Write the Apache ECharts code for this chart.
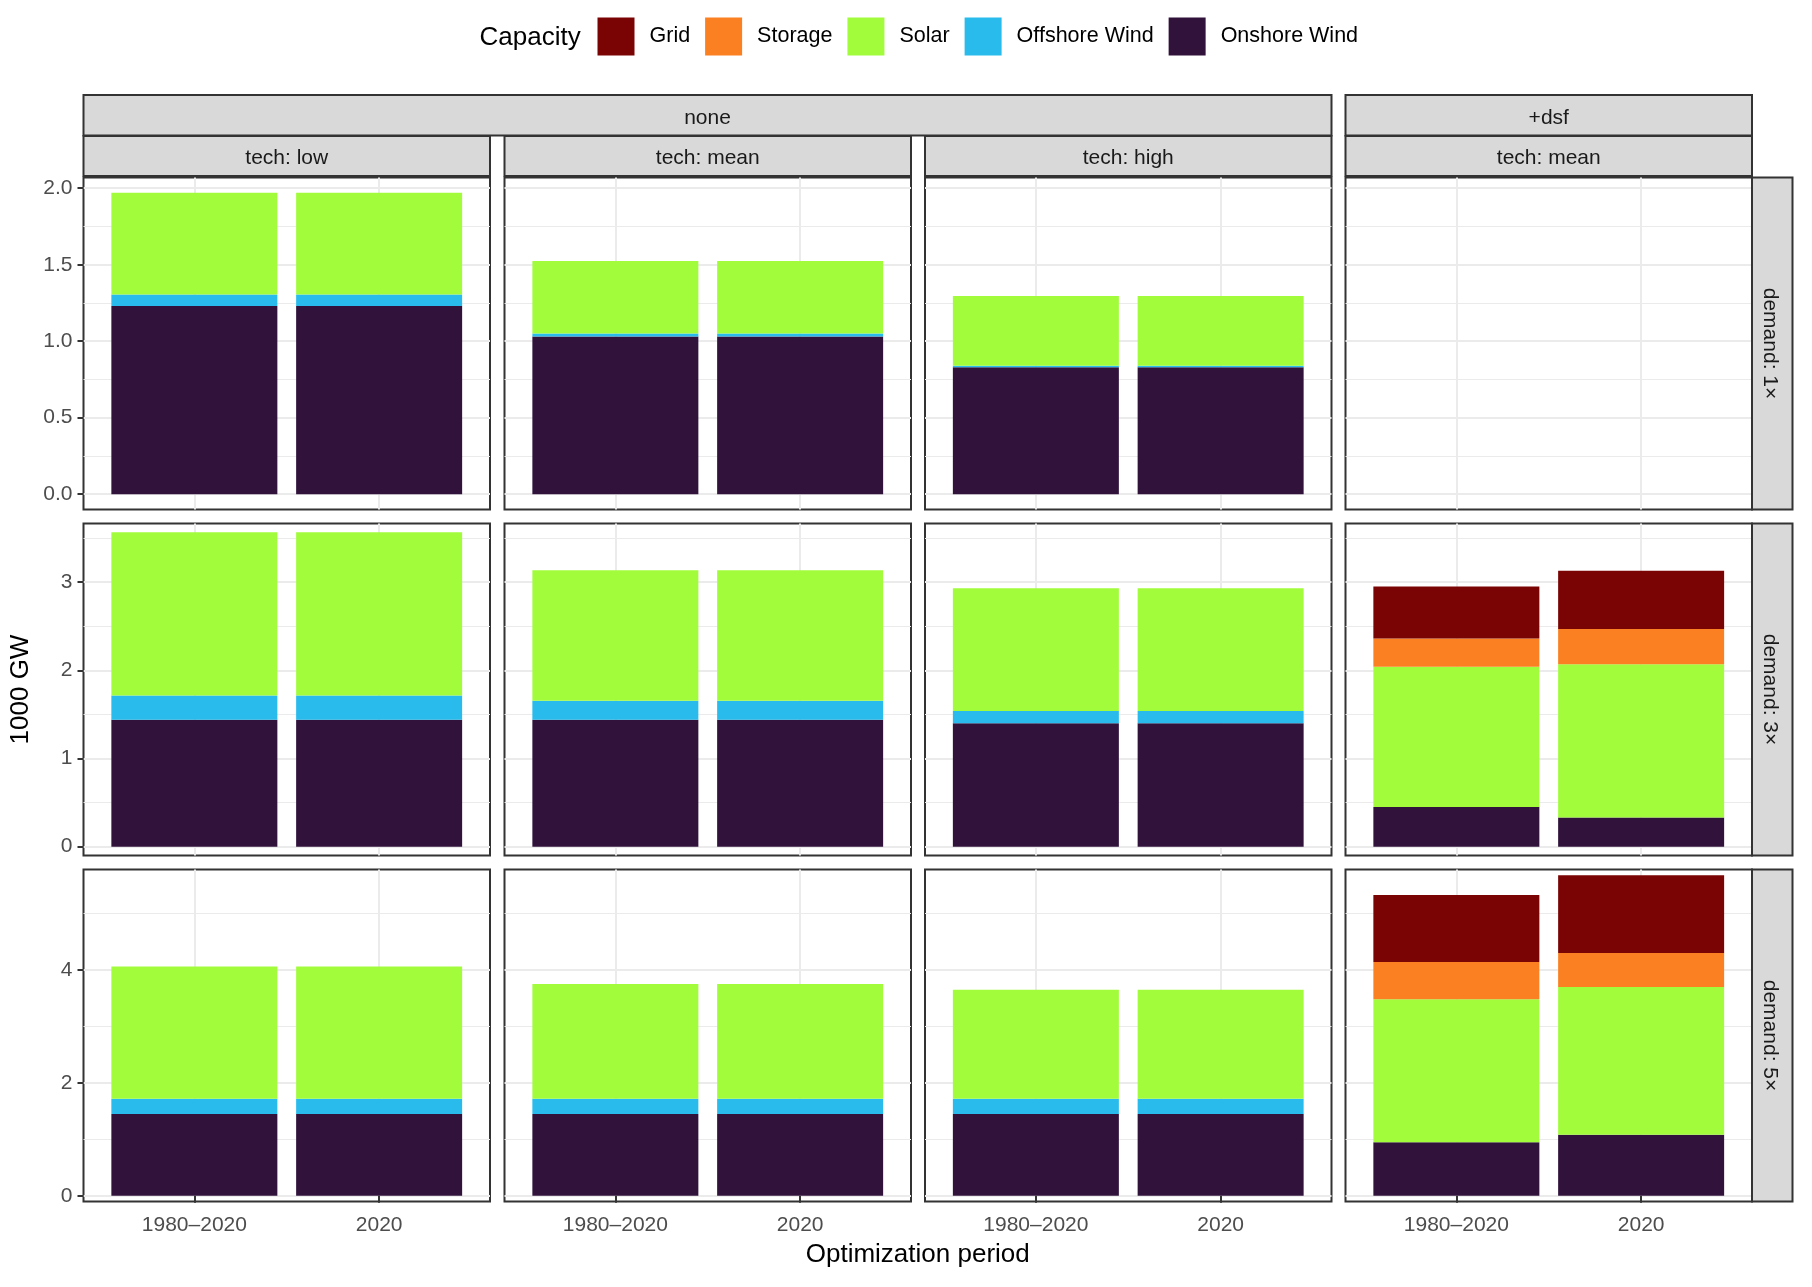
<!DOCTYPE html>
<html><head><meta charset="utf-8">
<script src="https://cdn.jsdelivr.net/npm/echarts@6/dist/echarts.min.js"></script>
<style>html,body{margin:0;padding:0;background:#fff}#c{width:1812px;height:1287px}</style>
</head><body><div id="c"></div>
<script>
// ---------------- data ----------------
const periods = ['1980–2020', '2020'];
const policyLevels = ['none', '+dsf'];
const techLevels = ['tech: low', 'tech: mean', 'tech: high', 'tech: mean'];
const demandLevels = ['demand: 1×', 'demand: 3×', 'demand: 5×'];
// stacking order, bottom to top
const capacityTypes = ['Onshore Wind', 'Offshore Wind', 'Solar', 'Storage', 'Grid'];
const legendOrder = ['Grid', 'Storage', 'Solar', 'Offshore Wind', 'Onshore Wind'];

// values in 1000 GW: [demand row][panel column][period]
const onshoreWind = [
  [[1.23, 1.23], [1.03, 1.03], [0.83, 0.83], null],
  [[1.44, 1.44], [1.44, 1.44], [1.40, 1.40], [0.45, 0.33]],
  [[1.45, 1.45], [1.45, 1.45], [1.45, 1.45], [0.95, 1.08]]
];
const offshoreWind = [
  [[0.075, 0.075], [0.02, 0.02], [0.01, 0.01], null],
  [[0.275, 0.275], [0.215, 0.215], [0.14, 0.14], [0, 0]],
  [[0.27, 0.27], [0.27, 0.27], [0.27, 0.27], [0, 0]]
];
const solar = [
  [[0.665, 0.665], [0.475, 0.475], [0.455, 0.455], null],
  [[1.85, 1.85], [1.48, 1.48], [1.39, 1.39], [1.59, 1.74]],
  [[2.34, 2.34], [2.03, 2.03], [1.93, 1.93], [2.53, 2.62]]
];
const storage = [
  [[0, 0], [0, 0], [0, 0], null],
  [[0, 0], [0, 0], [0, 0], [0.32, 0.40]],
  [[0, 0], [0, 0], [0, 0], [0.66, 0.60]]
];
const grid = [
  [[0, 0], [0, 0], [0, 0], null],
  [[0, 0], [0, 0], [0, 0], [0.59, 0.66]],
  [[0, 0], [0, 0], [0, 0], [1.19, 1.38]]
];

const yTicks = [[0, 0.5, 1, 1.5, 2], [0, 1, 2, 3], [0, 2, 4]];
const yTickLabels = [['0.0', '0.5', '1.0', '1.5', '2.0'], ['0', '1', '2', '3'], ['0', '2', '4']];
const yMinorTicks = [[0.25, 0.75, 1.25, 1.75], [0.5, 1.5, 2.5, 3.5], [1, 3, 5]];

// ---------------- styles / layout ----------------
const palette = {
  'Grid': '#7A0403', 'Storage': '#FB8022', 'Solar': '#A2FC3C',
  'Offshore Wind': '#28BBEC', 'Onshore Wind': '#30123B'
};
const FONT = '"Liberation Sans", Arial, sans-serif';
const colLeft = [83.5, 504.5, 925, 1345.5];
const colW = 406.5;
const rowTop = [177.5, 523.5, 869.5];
const rowH = 332;
const xPos = periods.map((p, i) => i + 1);
const EXPAND = 0.1;
const valueSets = {
  'Onshore Wind': onshoreWind, 'Offshore Wind': offshoreWind,
  'Solar': solar, 'Storage': storage, 'Grid': grid
};

// y range per row: stacked max + additive expansion
const rowMax = demandLevels.map((d, r) => {
  let m = 0;
  for (let c = 0; c < 4; c++) {
    if (!onshoreWind[r][c]) continue;
    for (let i = 0; i < periods.length; i++) {
      let s = 0;
      capacityTypes.forEach(k => { s += valueSets[k][r][c][i]; });
      m = Math.max(m, s);
    }
  }
  return m + EXPAND;
});

const grids = [], xAxes = [], yAxes = [], series = [];
for (let r = 0; r < 3; r++) {
  for (let c = 0; c < 4; c++) {
    const gi = r * 4 + c;
    grids.push({
      left: colLeft[c], top: rowTop[r], width: colW, height: rowH,
      show: true, borderColor: '#333333', borderWidth: 2,
      backgroundColor: 'transparent', containLabel: false, outerBoundsMode: 'none'
    });
    xAxes.push({
      gridIndex: gi, type: 'value', min: 0.4, max: periods.length + 0.6,
      axisLine: { show: false },
      axisTick: { show: r === 2, customValues: xPos, length: 7, lineStyle: { color: '#333333', width: 2 } },
      axisLabel: {
        show: r === 2, customValues: xPos, margin: 13,
        formatter: v => periods[xPos.indexOf(v)] || '',
        fontSize: 21, color: '#4D4D4D', fontFamily: FONT
      },
      splitLine: { show: true, lineStyle: { color: '#EBEBEB', width: 2 } }
    });
    yAxes.push({
      gridIndex: gi, type: 'value', min: -EXPAND, max: rowMax[r],
      axisLine: { show: false },
      axisTick: { show: c === 0, customValues: yTicks[r], length: 6, lineStyle: { color: '#333333', width: 2 } },
      axisLabel: {
        show: c === 0, customValues: yTicks[r], margin: 11,
        formatter: v => yTickLabels[r][yTicks[r].indexOf(v)] || '',
        fontSize: 21, color: '#4D4D4D', fontFamily: FONT
      },
      splitLine: { show: true, lineStyle: { color: '#EBEBEB', width: 2 } }
    });
    yAxes.push({
      gridIndex: gi, type: 'value', min: -EXPAND, max: rowMax[r], position: 'left',
      axisLine: { show: false },
      axisTick: { show: false, customValues: yMinorTicks[r] },
      axisLabel: { show: false, customValues: yMinorTicks[r] },
      splitLine: { show: true, lineStyle: { color: '#EBEBEB', width: 1 } }
    });
    if (!onshoreWind[r][c]) continue;
    capacityTypes.forEach(k => {
      series.push({
        type: 'bar', name: k, xAxisIndex: gi, yAxisIndex: gi * 2, stack: 'stack' + gi,
        barWidth: 166, itemStyle: { color: palette[k] },
        emphasis: { disabled: true },
        // value first so that the value dimension is the stacked one
        encode: { x: 1, y: 0 },
        data: periods.map((p, i) => [valueSets[k][r][c][i], xPos[i]])
      });
    });
  }
}

// strips & titles
const graphics = [];
function strip(x, y, w, h, text, vertical) {
  graphics.push({
    type: 'rect', shape: { x: x, y: y, width: w, height: h },
    style: { fill: '#D9D9D9', stroke: '#333333', lineWidth: 2 }, z: 10
  });
  graphics.push({
    type: 'text', x: x + w / 2, y: y + h / 2, rotation: vertical ? -Math.PI / 2 : 0,
    style: { text: text, x: 0, y: 2.5, fill: '#1A1A1A', font: '21px ' + FONT, align: 'center', verticalAlign: 'middle' }, z: 11
  });
}
strip(colLeft[0], 95, colLeft[2] + colW - colLeft[0], 40.5, policyLevels[0]);
strip(colLeft[3], 95, colW, 40.5, policyLevels[1]);
for (let c = 0; c < 4; c++) strip(colLeft[c], 136, colW, 40, techLevels[c]);
for (let r = 0; r < 3; r++) strip(colLeft[3] + colW, rowTop[r], 40.5, rowH, demandLevels[r], true);

graphics.push({
  type: 'text', x: 21, y: rowTop[0] + (rowTop[2] + rowH - rowTop[0]) / 2, rotation: Math.PI / 2,
  style: { text: '1000 GW', fill: '#000', font: '26px ' + FONT, align: 'center', verticalAlign: 'middle' }
});
graphics.push({
  type: 'text', x: colLeft[0] + (colLeft[3] + colW - colLeft[0]) / 2, y: 1254.5,
  style: { text: 'Optimization period', fill: '#000', font: '26px ' + FONT, align: 'center', verticalAlign: 'middle' }
});
graphics.push({
  type: 'text', x: 479.5, y: 38,
  style: { text: 'Capacity', fill: '#000', font: '26px ' + FONT, align: 'left', verticalAlign: 'middle' }
});

const chart = echarts.init(document.getElementById('c'), null, { renderer: 'canvas' });
chart.setOption({
  animation: false,
  backgroundColor: '#ffffff',
  legend: {
    left: 597.5, top: 17.5, orient: 'horizontal', icon: 'rect', padding: 0,
    itemWidth: 37, itemHeight: 38, itemGap: 15, selectedMode: false,
    data: legendOrder,
    textStyle: { fontSize: 21.5, color: '#000', fontFamily: FONT, padding: [0, 0, 0, 10] }
  },
  grid: grids, xAxis: xAxes, yAxis: yAxes, series: series, graphic: graphics
});
</script></body></html>
